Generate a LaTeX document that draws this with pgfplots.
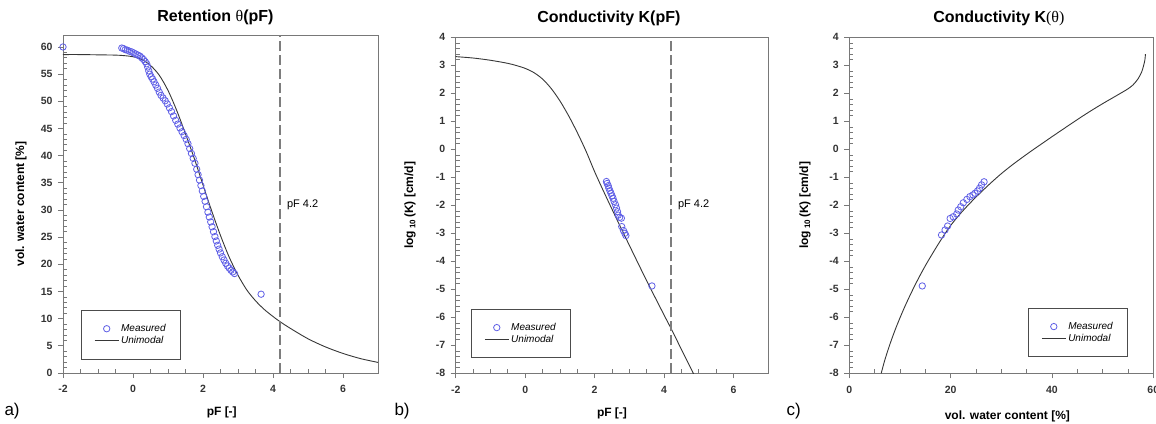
\documentclass[border=0pt]{standalone}
\usepackage{pgfplots}
\pgfplotsset{compat=1.18}
\usepackage{fontspec}
\setmainfont{Liberation Sans}
\newfontfamily\serif{Liberation Serif}
\definecolor{mblue}{RGB}{95,95,230}
\definecolor{curve}{RGB}{55,55,55}
\definecolor{frame}{RGB}{120,120,120}
\definecolor{dash}{RGB}{125,125,125}
\newcommand\lblfont{\fontsize{12}{14}\selectfont\bfseries}
\pgfplotsset{
  myaxis/.style={
    scale only axis, anchor=south west, clip=true,
    axis line style={draw=frame, line width=0.7pt},
    tick pos=left, tick align=outside,
    major tick length=5pt, minor tick length=4pt,
    every tick/.style={draw=frame, line width=0.7pt},
    minor x tick style={yshift=4pt},
    minor y tick style={xshift=4pt},
    ticklabel style={font=\fontsize{10.5}{12}\selectfont\bfseries, text=black!80},
    xticklabel style={yshift=-4pt},
    yticklabel style={xshift=-2pt},
    /pgf/number format/assume math mode=true,
    title style={font=\fontsize{16}{19}\selectfont\bfseries, anchor=base},
    legend cell align=left,
    legend style={anchor=south west, draw=black!70, line width=0.6pt,
      inner xsep=13pt, inner ysep=12pt, row sep=-1pt,
      font=\fontsize{10}{12}\selectfont\itshape},
  },
  meas/.style={only marks, mark=o, mark size=3.2pt, draw=mblue, mark options={line width=0.8pt, draw=mblue},
    legend image code/.code={\draw[##1] plot coordinates {(12pt,0pt)};}},
  fit/.style={no marks, draw=curve, line width=0.9pt,
    legend image code/.code={\draw[##1] (0pt,0pt) -- (24pt,0pt);}},
  pfline/.style={no marks, draw=dash, line width=1.3pt, dash pattern=on 10pt off 4pt, forget plot},
}
\begin{document}
\begin{tikzpicture}
\useasboundingbox (0pt,0pt) rectangle (1156pt,-423pt);
% ---------------- a) ----------------
\begin{axis}[myaxis, at={(63pt,-373pt)}, width=315pt, height=338pt,
  xmin=-2, xmax=7, ymin=0, ymax=62.2,
  xtick={-2,0,2,4,6}, minor x tick num=3,
  ytick={0,5,...,60}, minor y tick num=4,
  title={Retention {\serif\mdseries θ}(pF)},
  title style={at={(0.484,1)}, yshift=7pt},
  xlabel={pF [-]}, ylabel={vol. water content [\%]},
  every axis x label/.style={at={(axis description cs:0.504,-0.118)}, anchor=center, font=\lblfont},
  every axis y label/.style={at={(axis description cs:-0.133,0.5)}, rotate=90, anchor=center, font=\lblfont},
  legend style={at={(0.057,0.041)}},
]
\addplot[meas] coordinates {
(-2,60.0)
(-0.32,59.8) (-0.27,59.7) (-0.22,59.5) (-0.16,59.4) (-0.1,59.2) (-0.04,59.1) (0.02,58.9) (0.08,58.7)
(0.14,58.5) (0.2,58.3) (0.25,58.0) (0.3,57.7) (0.35,57.3) (0.39,56.9) (0.42,56.3) (0.45,55.6)
(0.48,55.0) (0.52,54.5) (0.56,54.1) (0.6,53.6) (0.65,53.0) (0.7,52.4) (0.75,51.7) (0.8,51.1)
(0.86,50.6) (0.92,50.1) (0.98,49.5) (1.04,48.8) (1.1,48.1) (1.16,47.3) (1.22,46.5) (1.28,45.8)
(1.34,45.1) (1.4,44.4) (1.46,43.7) (1.52,43.0) (1.57,42.2) (1.62,41.3) (1.67,40.4) (1.72,39.5)
(1.77,38.6) (1.82,37.5) (1.86,36.5) (1.9,35.5) (1.94,34.5) (1.98,33.5) (2.02,32.5) (2.06,31.6)
(2.1,30.6) (2.14,29.6) (2.18,28.7) (2.22,27.8) (2.26,26.9) (2.3,26.0) (2.34,25.1) (2.38,24.3)
(2.42,23.5) (2.46,22.8) (2.5,22.1) (2.55,21.4) (2.6,20.8) (2.65,20.2) (2.7,19.7) (2.75,19.3)
(2.8,18.9) (2.85,18.6) (2.9,18.3)
(3.66,14.5)
};
\addlegendentry{Measured}
\addplot[fit, smooth] coordinates {
(-2,58.6) (-1.5,58.6) (-1,58.55) (-0.5,58.5) (-0.25,58.4) (0,58.2) (0.25,57.7) (0.5,56.6)
(0.75,54.8) (1.0,52.0) (1.25,48.3) (1.5,44.0) (1.75,39.5) (2.0,34.6) (2.25,29.8) (2.5,25.3)
(2.75,21.3) (3.0,18.0) (3.25,15.3) (3.5,13.3) (3.75,11.7) (4.0,10.4) (4.2,9.45) (4.5,8.2)
(5.0,6.3) (5.5,4.8) (6.0,3.6) (6.5,2.65) (7.0,1.95)
};
\addlegendentry{Unimodal}
\addplot[pfline] coordinates {(4.2,0) (4.2,62.2)};
\node[anchor=west, font=\fontsize{11}{13}\selectfont] at (axis cs:4.3,30.9) {pF 4.2};
\end{axis}
% ---------------- b) ----------------
\begin{axis}[myaxis, at={(455.7pt,-373.3pt)}, width=312.6pt, height=336pt,
  xmin=-2, xmax=7, ymin=-8, ymax=4,
  xtick={-2,0,2,4,6}, minor x tick num=3,
  ytick={-8,-7,...,4}, minor y tick num=4,
  title={Conductivity K(pF)},
  title style={at={(0.49,1)}, yshift=9pt},
  xlabel={pF [-]}, ylabel={log\,\raisebox{-0.35ex}{\fontsize{8}{9}\selectfont 10}\,(K) [cm/d]},
  every axis x label/.style={at={(axis description cs:0.5,-0.119)}, anchor=center, font=\lblfont},
  every axis y label/.style={at={(axis description cs:-0.146,0.5)}, rotate=90, anchor=center, font=\lblfont},
  legend style={at={(0.049,0.0455)}},
]
\addplot[meas] coordinates {
(2.34,-1.15) (2.36,-1.22) (2.39,-1.3) (2.41,-1.39) (2.44,-1.48) (2.47,-1.57) (2.5,-1.66)
(2.53,-1.75) (2.56,-1.86) (2.6,-1.98) (2.63,-2.1) (2.66,-2.23) (2.68,-2.35) (2.72,-2.43)
(2.77,-2.46) (2.78,-2.76) (2.83,-2.9) (2.87,-3.0) (2.9,-3.08)
(3.65,-4.88)
};
\addlegendentry{Measured}
\addplot[fit, smooth] coordinates {
(-2,3.31) (-1.5,3.26) (-1,3.18) (-0.5,3.07) (-0.25,2.99) (0,2.89) (0.25,2.74) (0.5,2.51)
(0.75,2.17) (1.0,1.73) (1.25,1.2) (1.5,0.6) (1.75,-0.06) (2.0,-0.8) (2.25,-1.48) (2.5,-2.14)
(2.75,-2.79) (3.0,-3.43) (3.5,-4.7) (4.0,-5.92) (4.2,-6.4) (4.5,-7.15) (4.9,-8.15)
};
\addlegendentry{Unimodal}
\addplot[pfline] coordinates {(4.2,-8) (4.2,4)};
\node[anchor=west, font=\fontsize{11}{13}\selectfont] at (axis cs:4.3,-1.99) {pF 4.2};
\end{axis}
% ---------------- c) ----------------
\begin{axis}[myaxis, at={(849.3pt,-373.3pt)}, width=304pt, height=336pt,
  xmin=0, xmax=60, ymin=-8, ymax=4,
  xtick={0,20,40,60}, minor x tick num=3,
  ytick={-8,-7,...,4}, minor y tick num=4,
  title={Conductivity K{\serif\mdseries (θ)}},
  title style={at={(0.492,1)}, yshift=9pt},
  xlabel={vol. water content [\%]}, ylabel={log\,\raisebox{-0.35ex}{\fontsize{8}{9}\selectfont 10}\,(K) [cm/d]},
  every axis x label/.style={at={(axis description cs:0.52,-0.127)}, anchor=center, font=\lblfont},
  every axis y label/.style={at={(axis description cs:-0.146,0.5)}, rotate=90, anchor=center, font=\lblfont},
  legend style={at={(0.588,0.0485)}},
]
\addplot[meas] coordinates {
(14.4,-4.88) (18.2,-3.06) (18.9,-2.88) (19.4,-2.74) (19.9,-2.47) (20.5,-2.41) (21.2,-2.31)
(21.5,-2.17) (22.0,-2.05) (22.5,-1.91) (23.2,-1.79) (23.8,-1.69) (24.4,-1.63) (24.8,-1.57)
(25.3,-1.49) (25.7,-1.39) (26.1,-1.27) (26.6,-1.16)
};
\addlegendentry{Measured}
\addplot[fit, smooth] coordinates {
(6.3,-8.0) (7,-7.53) (8,-6.97) (9,-6.47) (10,-6.02) (11,-5.6) (12,-5.21) (13,-4.84) (14,-4.49)
(15,-4.16) (16,-3.85) (17,-3.55) (18,-3.26) (19,-2.98) (20,-2.72) (22,-2.28) (24,-1.89)
(26,-1.53) (28,-1.19) (30,-0.87) (32,-0.58) (34,-0.31) (36,-0.05) (38,0.2) (40,0.45) (42,0.695)
(44,0.94) (46,1.18) (48,1.41) (50,1.63) (52,1.84) (54,2.05) (55,2.16) (56,2.3) (57,2.52)
(57.7,2.76) (58.1,3.0) (58.35,3.2) (58.45,3.4)
};
\addlegendentry{Unimodal}
\end{axis}
% panel letters
\node[anchor=west, font=\fontsize{17}{20}\selectfont] at (1pt,-411pt) {a)};
\node[anchor=west, font=\fontsize{17}{20}\selectfont] at (391pt,-411pt) {b)};
\node[anchor=west, font=\fontsize{17}{20}\selectfont] at (783pt,-411pt) {c)};
\end{tikzpicture}
\end{document}
